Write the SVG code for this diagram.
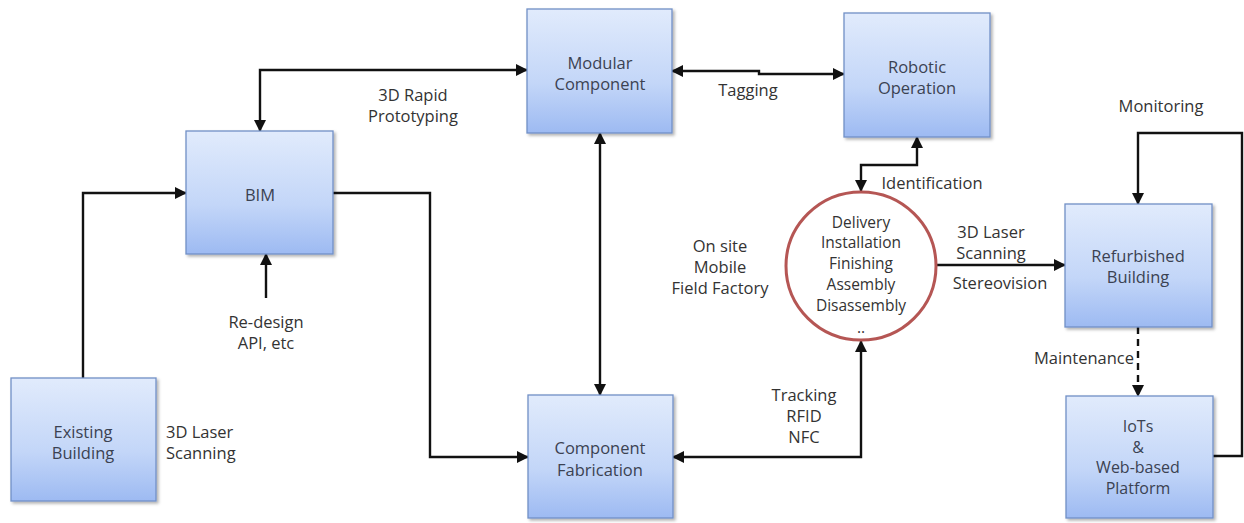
<svg xmlns="http://www.w3.org/2000/svg" width="1244" height="523" viewBox="0 0 1244 523">
<style>
.box{fill:url(#g);stroke:#7090c6;stroke-width:1.3;filter:url(#sh)}
.bt{font-family:"Open Sans","Noto Sans",sans-serif;font-size:16.5px;fill:#3b4252;text-anchor:middle}
.bs{font-family:"Open Sans","Noto Sans",sans-serif;font-size:16px;fill:#3b4252;text-anchor:middle}
.lb{font-family:"Open Sans","Noto Sans",sans-serif;font-size:16.5px;fill:#333;text-anchor:middle}
.ls{font-family:"Open Sans","Noto Sans",sans-serif;font-size:16.5px;fill:#333;text-anchor:start}
.ct{font-family:"Open Sans","Noto Sans",sans-serif;font-size:15.5px;fill:#333;text-anchor:middle}
.cn{fill:none;stroke:#111;stroke-width:2.4}
</style>
<defs>
<linearGradient id="g" x1="0" y1="0" x2="0" y2="1">
<stop offset="0" stop-color="#e1ebfc"/>
<stop offset="0.6" stop-color="#c3d6f8"/>
<stop offset="1" stop-color="#9dbaf2"/>
</linearGradient>
<filter id="sh" x="-10%" y="-10%" width="125%" height="125%">
<feDropShadow dx="2" dy="2" stdDeviation="1.5" flood-color="#000" flood-opacity="0.3"/>
</filter>
<marker id="a" viewBox="0 0 12 12" markerWidth="12" markerHeight="12" markerUnits="userSpaceOnUse" refX="11" refY="6" orient="auto-start-reverse">
<path d="M0,0 L12,6 L0,12 z" fill="#111"/>
</marker>
</defs>
<rect width="1244" height="523" fill="#fff"/>

<g id="connectors">
<path class="cn" d="M260,131 V70 H527" marker-start="url(#a)" marker-end="url(#a)"/>
<path class="cn" d="M83,378 V193 H186" marker-end="url(#a)"/>
<path class="cn" d="M266,298 V254" marker-end="url(#a)"/>
<path class="cn" d="M333,193 H430 V457 H528" marker-end="url(#a)"/>
<path class="cn" d="M600,133 V395" marker-start="url(#a)" marker-end="url(#a)"/>
<path class="cn" d="M672,71 H759 V74 H844" marker-start="url(#a)" marker-end="url(#a)"/>
<path class="cn" d="M917,137 V165 H861 V191" marker-start="url(#a)" marker-end="url(#a)"/>
<path class="cn" d="M936,265 H1065" marker-end="url(#a)"/>
<path class="cn" d="M1213,456 H1242 V133 H1138 V204" marker-end="url(#a)"/>
<path class="cn" d="M1138,327 V396" stroke-dasharray="7,5" marker-end="url(#a)"/>
<path class="cn" d="M673,457 H861 V341" marker-start="url(#a)" marker-end="url(#a)"/>
</g>

<g id="modular">
<rect class="box" x="527" y="9" width="145" height="124"/>
<text class="bt" x="600" y="69">Modular</text>
<text class="bt" x="600" y="90">Component</text>
</g>
<g id="robotic">
<rect class="box" x="844" y="13" width="146" height="124"/>
<text class="bt" x="917" y="73">Robotic</text>
<text class="bt" x="917" y="94">Operation</text>
</g>
<g id="bim">
<rect class="box" x="186" y="131" width="147" height="123"/>
<text class="bt" x="260" y="201">BIM</text>
</g>
<g id="existing">
<rect class="box" x="11" y="378" width="145" height="123"/>
<text class="bt" x="83" y="438">Existing</text>
<text class="bt" x="83" y="459">Building</text>
</g>
<g id="fabrication">
<rect class="box" x="528" y="395" width="145" height="123"/>
<text class="bt" x="600" y="454">Component</text>
<text class="bt" x="600" y="476">Fabrication</text>
</g>
<g id="refurbished">
<rect class="box" x="1065" y="204" width="147" height="123"/>
<text class="bt" x="1138" y="262">Refurbished</text>
<text class="bt" x="1138" y="283">Building</text>
</g>
<g id="iots">
<rect class="box" x="1066" y="396" width="147" height="122"/>
<text class="bs" x="1138" y="432">IoTs</text>
<text class="bs" x="1138" y="452.5">&amp;</text>
<text class="bs" x="1138" y="473">Web-based</text>
<text class="bs" x="1138" y="493.5">Platform</text>
</g>
<g id="site-activities">
<ellipse cx="861" cy="266" rx="75" ry="74" fill="#fff" stroke="#b55654" stroke-width="3"/>
<text class="ct" x="861" y="228">Delivery</text>
<text class="ct" x="861" y="248">Installation</text>
<text class="ct" x="861" y="269">Finishing</text>
<text class="ct" x="861" y="290">Assembly</text>
<text class="ct" x="861" y="311">Disassembly</text>
<text class="ct" x="861" y="333">..</text>
</g>

<g id="labels">
<text class="lb" x="413" y="101">3D Rapid</text>
<text class="lb" x="413" y="122">Prototyping</text>
<text class="lb" x="748" y="96">Tagging</text>
<text class="lb" x="932" y="189">Identification</text>
<text class="lb" x="1161" y="112">Monitoring</text>
<text class="lb" x="720" y="252">On site</text>
<text class="lb" x="720" y="273">Mobile</text>
<text class="lb" x="720" y="294">Field Factory</text>
<text class="lb" x="991" y="238">3D Laser</text>
<text class="lb" x="991" y="259">Scanning</text>
<text class="lb" x="1000" y="289">Stereovision</text>
<text class="lb" x="1084" y="364">Maintenance</text>
<text class="lb" x="804" y="401">Tracking</text>
<text class="lb" x="804" y="422">RFID</text>
<text class="lb" x="804" y="443">NFC</text>
<text class="lb" x="266" y="328">Re-design</text>
<text class="lb" x="266" y="349">API, etc</text>
<text class="ls" x="166" y="438">3D Laser</text>
<text class="ls" x="166" y="459">Scanning</text>
</g>
</svg>
